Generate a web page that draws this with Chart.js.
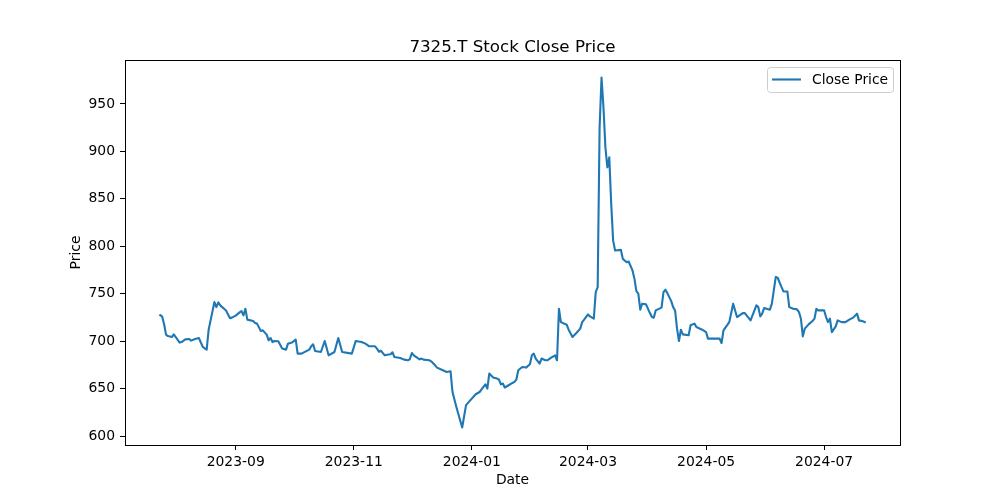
<!DOCTYPE html>
<html>
<head>
<meta charset="utf-8">
<title>7325.T Stock Close Price</title>
<script src="https://cdn.jsdelivr.net/npm/chart.js@4.4.1/dist/chart.umd.min.js"></script>
<style>
    html, body { margin: 0; padding: 0; background: #fff; }
    #wrap { width: 1000px; height: 500px; }
</style>
</head>
<body>
<div id="wrap"><canvas id="priceChart" width="1000" height="500"></canvas></div>
<script>
const chartTitle = "7325.T Stock Close Price";
const seriesName = "Close Price";
const xAxisLabel = "Date";
const yAxisLabel = "Price";

const dates = [
    "2023-07-24", "2023-07-25", "2023-07-26", "2023-07-27", "2023-07-28", "2023-07-30", "2023-07-31",
    "2023-08-01", "2023-08-03", "2023-08-04", "2023-08-06", "2023-08-08", "2023-08-09", "2023-08-11",
    "2023-08-13", "2023-08-15", "2023-08-16", "2023-08-17", "2023-08-18", "2023-08-21", "2023-08-22",
    "2023-08-23", "2023-08-24", "2023-08-27", "2023-08-29", "2023-08-30",
    "2023-09-01", "2023-09-03", "2023-09-04", "2023-09-05", "2023-09-06", "2023-09-07", "2023-09-10",
    "2023-09-11", "2023-09-12", "2023-09-14", "2023-09-15", "2023-09-17", "2023-09-18", "2023-09-19",
    "2023-09-20", "2023-09-21", "2023-09-23", "2023-09-25", "2023-09-27", "2023-09-28", "2023-09-30",
    "2023-10-02", "2023-10-03", "2023-10-05", "2023-10-09", "2023-10-10", "2023-10-11", "2023-10-12",
    "2023-10-15", "2023-10-17", "2023-10-19", "2023-10-22", "2023-10-24", "2023-10-26", "2023-10-31",
    "2023-11-02", "2023-11-05", "2023-11-07", "2023-11-09", "2023-11-12", "2023-11-13", "2023-11-14",
    "2023-11-15", "2023-11-17", "2023-11-19", "2023-11-20", "2023-11-21", "2023-11-22", "2023-11-25",
    "2023-11-27", "2023-11-29", "2023-11-30",
    "2023-12-01", "2023-12-02", "2023-12-05", "2023-12-06", "2023-12-07", "2023-12-10", "2023-12-11",
    "2023-12-13", "2023-12-14", "2023-12-17", "2023-12-19", "2023-12-21", "2023-12-22", "2023-12-24",
    "2023-12-27", "2023-12-29", "2023-12-30",
    "2024-01-03", "2024-01-05", "2024-01-07", "2024-01-08", "2024-01-09", "2024-01-10", "2024-01-12",
    "2024-01-14", "2024-01-15", "2024-01-16", "2024-01-17", "2024-01-18", "2024-01-20", "2024-01-22",
    "2024-01-23", "2024-01-24", "2024-01-25", "2024-01-27", "2024-01-29", "2024-01-31",
    "2024-02-01", "2024-02-02", "2024-02-03", "2024-02-05", "2024-02-06", "2024-02-08", "2024-02-09",
    "2024-02-11", "2024-02-13", "2024-02-14", "2024-02-15", "2024-02-16", "2024-02-19", "2024-02-20",
    "2024-02-22", "2024-02-24", "2024-02-26", "2024-02-27", "2024-02-28",
    "2024-03-01", "2024-03-02", "2024-03-04", "2024-03-05", "2024-03-06", "2024-03-07", "2024-03-08",
    "2024-03-09", "2024-03-10", "2024-03-11", "2024-03-12", "2024-03-13", "2024-03-14", "2024-03-15",
    "2024-03-18", "2024-03-19", "2024-03-21", "2024-03-22", "2024-03-24", "2024-03-25", "2024-03-26",
    "2024-03-27", "2024-03-28", "2024-03-29", "2024-03-31",
    "2024-04-02", "2024-04-03", "2024-04-04", "2024-04-05", "2024-04-08", "2024-04-09", "2024-04-10",
    "2024-04-11", "2024-04-13", "2024-04-14", "2024-04-15", "2024-04-16", "2024-04-17", "2024-04-18",
    "2024-04-19", "2024-04-22", "2024-04-23", "2024-04-25", "2024-04-26", "2024-04-29",
    "2024-05-01", "2024-05-02", "2024-05-05", "2024-05-08", "2024-05-09", "2024-05-10", "2024-05-13",
    "2024-05-15", "2024-05-17", "2024-05-20", "2024-05-21", "2024-05-24", "2024-05-27", "2024-05-28",
    "2024-05-29", "2024-05-30", "2024-05-31",
    "2024-06-03", "2024-06-04", "2024-06-05", "2024-06-06", "2024-06-07", "2024-06-09", "2024-06-10",
    "2024-06-12", "2024-06-13", "2024-06-15", "2024-06-17", "2024-06-18", "2024-06-19", "2024-06-20",
    "2024-06-21", "2024-06-23", "2024-06-25", "2024-06-26", "2024-06-27", "2024-06-28",
    "2024-07-01", "2024-07-02", "2024-07-03", "2024-07-04", "2024-07-05", "2024-07-07", "2024-07-08",
    "2024-07-10", "2024-07-12", "2024-07-14", "2024-07-16", "2024-07-18", "2024-07-19", "2024-07-21",
    "2024-07-22"
];

const closePrices = [
    727.5, 726, 718, 707, 705.5, 704.5, 707.3,
    704.5, 698.6, 699.2, 702, 702.4, 700.7, 702.4,
    703.4, 694, 692.6, 691.2, 712, 741.3, 736,
    741, 737.8, 732.5, 724.4, 724.9,
    727, 730.4, 731.8, 727.3, 734.3, 722.8, 721.3,
    719.2, 718.6, 710.8, 711.5, 707, 701, 703.4,
    699.2, 700.3, 700, 692.3, 691.2, 697.5, 698.6,
    701.7, 687, 687, 691.2, 694.7, 696.8, 689.7,
    688.7, 700.3, 685.2, 688.7, 703.4, 688.7, 687,
    700.3, 699.2, 697.5, 694.7, 694.7, 692.3, 689,
    690, 685.2, 686, 686.3, 688.4, 683.4, 682.4,
    680.7, 680, 681.3,
    687.7, 685.2, 681, 681.8, 680.7, 680, 678.9,
    674.7, 672.3, 669.5, 667.7, 668.4, 646.6, 630.9,
    609.2, 632.7, 635.1,
    644.2, 646.6, 651.9, 654.7, 650.2, 666, 661.8,
    660.7, 659.7, 654.7, 655.5, 651.3, 653.7, 656.1,
    657.2, 659.7, 669.5, 672.9, 672.3, 675.8,
    685.2, 687, 681.8, 676.5, 681.8, 680, 680,
    682.8, 685.2, 680, 734.3, 720.2, 717.5, 712.2,
    704.5, 708.7, 713.3, 720.2, 722.8,
    728.3, 726.2, 723.8, 751.8, 757, 925.3, 977.8,
    946.3, 904.2, 883.2, 893.7, 844.7, 806, 795.6,
    796.3, 786.8, 783.3, 784, 774.6, 765.9, 752.8,
    750.1, 733.3, 739.6, 738.9,
    729.7, 725.5, 724.9, 732.5, 735.4, 751.8, 754.3,
    750.7, 742.3, 736, 732.5, 713.3, 700.3, 712.2,
    707.3, 706.3, 716.8, 718.6, 715, 712.2,
    709.7, 702.8, 702.8, 702.8, 698.2, 711.5, 720.2,
    739.6, 725.5, 729.7, 729.7, 722, 737.8, 736,
    726.2, 729.1, 735,
    733.3, 739.6, 753.6, 767.6, 766.9, 757, 752.5,
    752.5, 736, 734.3, 733.6, 730.8, 723.8, 705.2,
    713.3, 717.8, 721.3, 723.8, 734.3, 732.5,
    732.5, 725.5, 720.2, 723.8, 709.7, 715.7, 722,
    720.2, 720.2, 722.8, 724.9, 729.1, 722, 721,
    720.2
];

const xTickLabels = ["2023-09", "2023-11", "2024-01", "2024-03", "2024-05", "2024-07"];
const yTickValues = [600, 650, 700, 750, 800, 850, 900, 950];

const LINE_COLOR = "#1f77b4";
const LINE_WIDTH = 2.1;
const FONT = "'DejaVu Sans', sans-serif";

function pad2(n) {
    return n < 10 ? "0" + n : "" + n;
}

function monthLabel(ms) {
    const d = new Date(ms);
    return d.getUTCFullYear() + "-" + pad2(d.getUTCMonth() + 1);
}

// matplotlib style frame, title, axis labels and legend
const decorPlugin = {
    id: "decor",
    afterDraw(chart) {
        const { ctx, chartArea: a } = chart;
        ctx.save();

        ctx.strokeStyle = "#000";
        ctx.lineWidth = 1;
        ctx.strokeRect(Math.round(a.left) + 0.5, Math.round(a.top) + 0.5,
            Math.round(a.right - a.left), Math.round(a.bottom - a.top));

        const cx = (a.left + a.right) / 2;
        ctx.fillStyle = "#000";
        ctx.textAlign = "center";
        ctx.textBaseline = "alphabetic";
        ctx.font = "16.7px " + FONT;
        ctx.fillText(chartTitle, cx, a.top - 8);

        ctx.font = "13.9px " + FONT;
        ctx.textBaseline = "middle";
        ctx.fillText(xAxisLabel, cx, 480);

        ctx.save();
        ctx.translate(76, (a.top + a.bottom) / 2);
        ctx.rotate(-Math.PI / 2);
        ctx.fillText(yAxisLabel, 0, 0);
        ctx.restore();

        // legend box, upper right
        const bx = 767.5, by = 67.5, bw = 126, bh = 25;
        ctx.beginPath();
        ctx.roundRect(bx, by, bw, bh, 3);
        ctx.fillStyle = "rgba(255,255,255,0.8)";
        ctx.fill();
        ctx.strokeStyle = "#cccccc";
        ctx.lineWidth = 1;
        ctx.stroke();

        ctx.beginPath();
        ctx.moveTo(772, 79.5);
        ctx.lineTo(801, 79.5);
        ctx.strokeStyle = LINE_COLOR;
        ctx.lineWidth = LINE_WIDTH;
        ctx.stroke();

        ctx.fillStyle = "#000";
        ctx.textAlign = "left";
        ctx.textBaseline = "middle";
        ctx.fillText(seriesName, 812, 80);

        ctx.restore();
    }
};

function buildChart() {
    const xs = dates.map(d => Date.parse(d));
    const points = xs.map((x, i) => ({ x: x, y: closePrices[i] }));

    const xSpan = xs[xs.length - 1] - xs[0];
    const yMin = Math.min(...closePrices), yMax = Math.max(...closePrices);
    const ySpan = yMax - yMin;

    const ctx = document.getElementById("priceChart");
    new Chart(ctx, {
        type: "line",
        data: {
            datasets: [{
                label: seriesName,
                data: points,
                borderColor: LINE_COLOR,
                borderWidth: LINE_WIDTH,
                borderJoinStyle: "round",
                borderCapStyle: "square",
                pointRadius: 0,
                tension: 0,
                fill: false
            }]
        },
        options: {
            responsive: false,
            animation: false,
            devicePixelRatio: 1,
            layout: { padding: { top: 60, right: 100, left: 0, bottom: 0 } },
            plugins: {
                legend: { display: false },
                title: { display: false },
                tooltip: { enabled: false }
            },
            scales: {
                x: {
                    type: "linear",
                    min: xs[0] - xSpan * 0.05,
                    max: xs[xs.length - 1] + xSpan * 0.05,
                    afterBuildTicks: (scale) => {
                        scale.ticks = xTickLabels.map(l => ({ value: Date.parse(l + "-01") }));
                    },
                    afterFit: (scale) => { scale.height = 55; },
                    grid: {
                        drawOnChartArea: false,
                        drawTicks: true,
                        tickLength: 5,
                        color: "#000"
                    },
                    border: { display: true, color: "#000", width: 1 },
                    ticks: {
                        autoSkip: false,
                        maxRotation: 0,
                        padding: 4,
                        color: "#000",
                        font: { family: FONT, size: 13.9 },
                        callback: (v) => monthLabel(v)
                    }
                },
                y: {
                    type: "linear",
                    min: yMin - ySpan * 0.05,
                    max: yMax + ySpan * 0.05,
                    afterBuildTicks: (scale) => {
                        scale.ticks = yTickValues.map(v => ({ value: v }));
                    },
                    afterFit: (scale) => { scale.width = 125; },
                    grid: {
                        drawOnChartArea: false,
                        drawTicks: true,
                        tickLength: 5,
                        color: "#000"
                    },
                    border: { display: true, color: "#000", width: 1 },
                    ticks: {
                        padding: 5,
                        color: "#000",
                        font: { family: FONT, size: 13.9 },
                        callback: (v) => String(v)
                    }
                }
            }
        },
        plugins: [decorPlugin]
    });
}

if (document.readyState === "loading") {
    document.addEventListener("DOMContentLoaded", buildChart);
} else {
    buildChart();
}
</script>
</body>
</html>
